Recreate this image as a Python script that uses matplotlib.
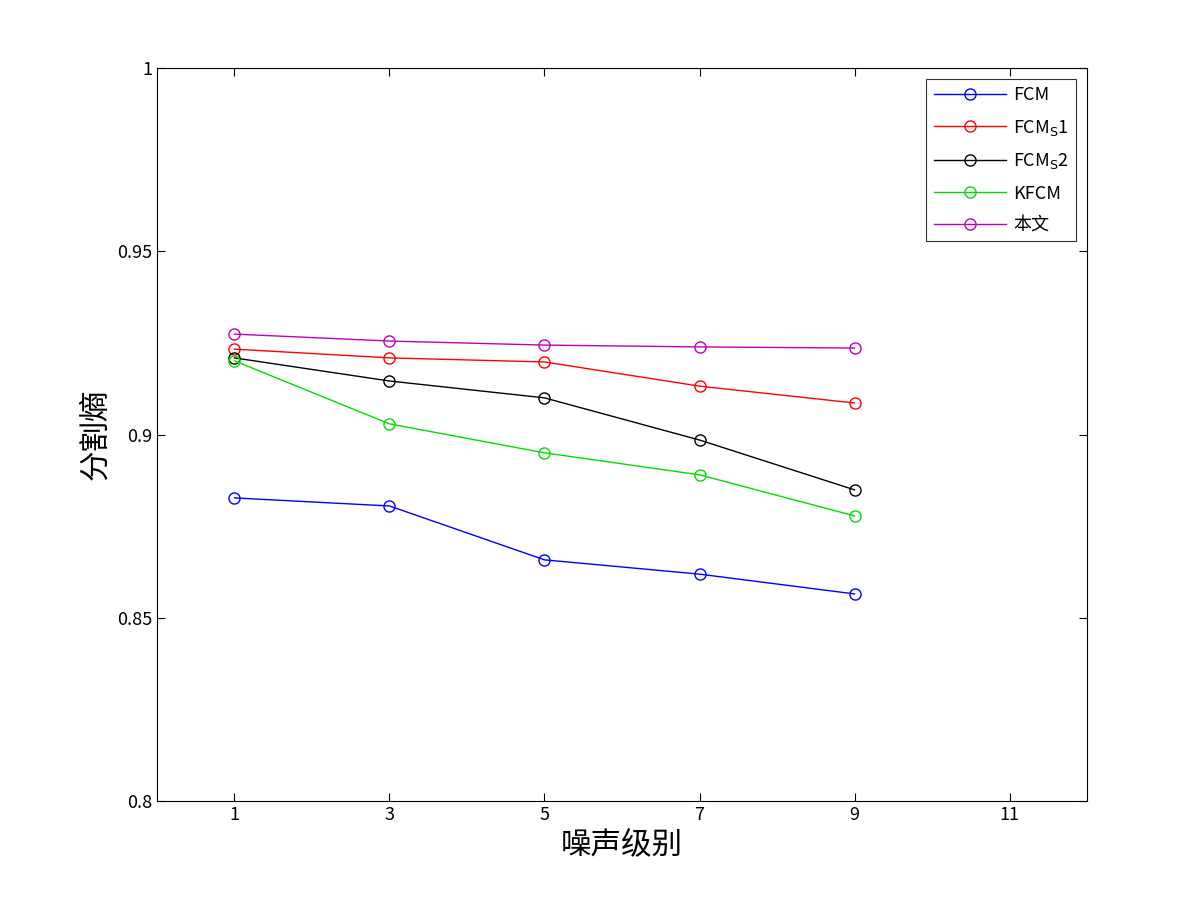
import matplotlib
matplotlib.use("Agg")
from matplotlib import pyplot as plt

plt.rcParams['font.family'] = ['Noto Sans CJK SC', 'DejaVu Sans']
plt.rcParams['mathtext.fontset'] = 'dejavusans'

noise = [1, 3, 5, 7, 9]
fcm = [0.8827, 0.8805, 0.8658, 0.8619, 0.8565]
fcms1 = [0.9233, 0.9209, 0.9198, 0.9132, 0.9086]
fcms2 = [0.9209, 0.9146, 0.9100, 0.8985, 0.8849]
kfcm = [0.9201, 0.9029, 0.8950, 0.8890, 0.8778]
ours = [0.9274, 0.9255, 0.9244, 0.9239, 0.9236]

fig = plt.figure(figsize=(12.01, 9.01), dpi=100)
ax = fig.add_axes([0.1307, 0.111, 0.7744, 0.8135])

series = [
    (fcm, 'b', 'FCM'),
    (fcms1, 'r', r'FCM$_\mathrm{S}$1'),
    (fcms2, 'k', r'FCM$_\mathrm{S}$2'),
    (kfcm, '#00dd00', 'KFCM'),
    (ours, 'm', '本文'),
]
for vals, col, lab in series:
    ax.plot(noise, vals, color=col, marker='o', markersize=8, markerfacecolor='none',
            markeredgecolor=col, linewidth=1, label=lab)

ax.set_xlim(0, 12)
ax.set_ylim(0.8, 1.0)
ax.set_xticks([1, 3, 5, 7, 9, 11])
ax.set_yticks([0.8, 0.85, 0.9, 0.95, 1.0])
ax.set_yticklabels(['0.8', '0.85', '0.9', '0.95', '1'])
ax.tick_params(direction='in', labelsize=13, top=True, right=True, length=6)
ax.set_xlabel('噪声级别', fontsize=22)
ax.set_ylabel('分割熵', fontsize=22)

leg = ax.legend(loc='upper right', fontsize=13, frameon=True, fancybox=False,
                edgecolor='k', borderaxespad=0.6, handlelength=4,
                labelspacing=0.75, handletextpad=0.4)
leg.get_frame().set_linewidth(0.8)

fig.savefig('out.png')
